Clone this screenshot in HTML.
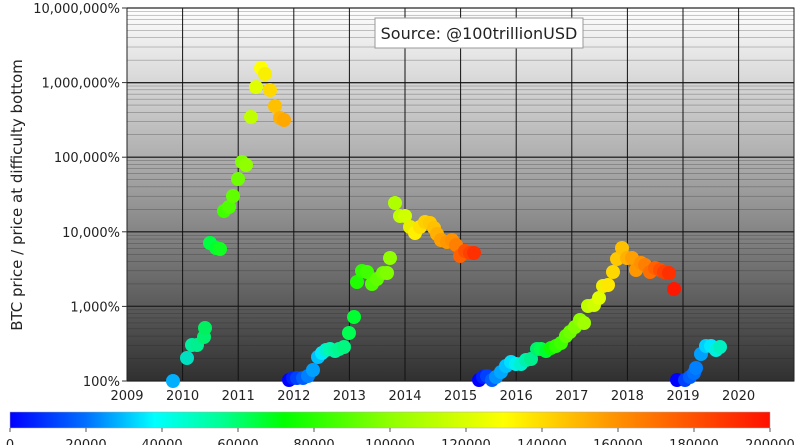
<!DOCTYPE html>
<html><head><meta charset="utf-8"><style>
html,body{margin:0;padding:0;background:#fff;width:800px;height:445px;overflow:hidden}
svg text{font-family:"DejaVu Sans","Liberation Sans",sans-serif;fill:#222}
</style></head><body>
<svg id="s" width="800" height="445" xmlns="http://www.w3.org/2000/svg">
<defs>
<linearGradient id="bg" x1="0" y1="0" x2="0" y2="1">
<stop offset="0" stop-color="#ffffff"/><stop offset="0.5" stop-color="#9a9a9a"/><stop offset="1" stop-color="#303030"/>
</linearGradient>
<linearGradient id="cb" x1="0" y1="0" x2="1" y2="0">
<stop offset="0" stop-color="#0000ff"/><stop offset="0.1" stop-color="#0070ff"/><stop offset="0.19" stop-color="#00ffff"/>
<stop offset="0.28" stop-color="#00ff90"/><stop offset="0.36" stop-color="#00ff00"/><stop offset="0.5" stop-color="#90ff00"/>
<stop offset="0.65" stop-color="#ffff00"/><stop offset="0.8" stop-color="#ff9000"/><stop offset="1" stop-color="#ff1000"/>
</linearGradient>
</defs>
<rect x="127" y="8" width="667" height="373" fill="url(#bg)"/>
<g id="grid"></g>
<rect x="127" y="8" width="667" height="373" fill="none" stroke="#222" stroke-width="1"/>
<g id="pts"></g>
<rect x="375" y="18" width="208" height="30" fill="#fff" stroke="#999"/>
<text x="479" y="39" font-size="16" text-anchor="middle">Source: @100trillionUSD</text>
<text transform="translate(22,195) rotate(-90)" font-size="15" text-anchor="middle">BTC price / price at difficulty bottom</text>
<g id="lab" font-size="13"></g>
<rect x="10" y="412" width="760" height="16" fill="url(#cb)" stroke="#aaa" stroke-width="0.5"/>
<g id="cbl" font-size="13"></g>
</svg>
<script>
(function(){
var NS="http://www.w3.org/2000/svg";
function el(p,t,a,txt){var e=document.createElementNS(NS,t);for(var k in a)e.setAttribute(k,a[k]);if(txt!==undefined)e.textContent=txt;document.getElementById(p).appendChild(e);}
var T=8,B=381,dec=(B-T)/5;
for(var d=0;d<5;d++){for(var k=1;k<=10;k++){var y=B-dec*(d+Math.log10(k));
el('grid','line',{x1:127,x2:794,y1:y,y2:y,stroke:'#222','stroke-width':(k==1||k==10)?1.2:0.5,'stroke-opacity':(k==1||k==10)?0.9:0.5});}}
var yl=['100%','1,000%','10,000%','100,000%','1,000,000%','10,000,000%'];
yl.forEach(function(t,i){var y=B-dec*i;el('lab','text',{x:120,y:y+5,'text-anchor':'end'},t);el('lab','line',{x1:122,x2:127,y1:y,y2:y,stroke:'#333'});});
for(var i=0;i<12;i++){var x=127+i*55.6;el('grid','line',{x1:x,x2:x,y1:8,y2:381,stroke:'#111','stroke-width':1});
el('lab','text',{x:x,y:400,'text-anchor':'middle'},String(2009+i));}
for(var i=0;i<=10;i++){var x=10+i*76;el('cbl','line',{x1:x,x2:x,y1:428,y2:432,stroke:'#555'});el('cbl','text',{x:x,y:449,'text-anchor':'middle'},String(i*20000));}
var P=[[173,381,'#00b0ff'],[187,358,'#00e0c0'],[192,345,'#00f0a0'],[197,345,'#00f090'],[204,337,'#00f070'],[205,328,'#00f060'],[210,243,'#00ff40'],[216,248,'#00ff30'],[220,249,'#10ff20'],[224,211,'#40ff00'],[229,207,'#50ff00'],[233,196,'#60ff00'],[238,179,'#70ff00'],[242,162,'#80ff00'],[246,165,'#90ff00'],[251,117,'#c0ff00'],[256,87,'#e0ff00'],[261,68,'#ffff00'],[265,74,'#f8f000'],[270,90,'#ffd800'],[275,106,'#ffc000'],[280,118,'#ffb000'],[284,120,'#ffa800'],
[289,380,'#0000ff'],[293,378,'#0020ff'],[297,378,'#0040ff'],[303,378,'#0060ff'],[308,376,'#0080ff'],[313,370,'#00a0ff'],[318,357,'#00c0ff'],[322,353,'#00e8ff'],[326,350,'#00f0d0'],[330,349,'#00f8b0'],[335,351,'#00f8a0'],[339,349,'#00f890'],[344,347,'#00f880'],[349,333,'#00ff50'],[354,317,'#00ff30'],[357,282,'#20ff00'],[362,271,'#30ff00'],[367,272,'#40ff00'],[372,284,'#50ff00'],[377,279,'#60ff00'],[383,273,'#70ff00'],[387,273,'#80ff00'],[390,258,'#90ff00'],[395,203,'#b0ff00'],[400,216,'#c0ff00'],[405,216,'#d0ff00'],[410,227,'#e8f000'],[415,233,'#fff000'],[420,227,'#ffe000'],[425,222,'#ffd000'],[430,223,'#ffc800'],[434,228,'#ffc000'],[437,234,'#ffb000'],[441,240,'#ffa000'],[447,242,'#ff9800'],[452,240,'#ff9000'],[456,245,'#ff8000'],[460,256,'#ff6000'],[465,251,'#ff5000'],[470,253,'#ff4000'],[474,253,'#ff3000'],
[479,380,'#0000ff'],[483,377,'#0020ff'],[487,376,'#0040ff'],[492,380,'#0060ff'],[496,377,'#0090ff'],[501,372,'#00a8ff'],[506,366,'#00c0ff'],[511,362,'#00e0ff'],[516,364,'#00f0f0'],[521,364,'#00f0d0'],[526,360,'#00f0b0'],[531,359,'#00f090'],[537,349,'#00f070'],[541,349,'#00ff50'],[546,351,'#00ff30'],[551,348,'#10ff00'],[556,346,'#30ff00'],[561,343,'#40ff00'],[566,336,'#60ff00'],[570,332,'#70ff00'],[575,327,'#80ff00'],[580,320,'#90ff00'],[584,323,'#a0ff00'],[588,306,'#c0ff00'],[594,305,'#d0ff00'],[599,298,'#e0ff00'],[603,286,'#f0f000'],[608,285,'#ffe800'],[613,272,'#ffd800'],[617,259,'#ffc800'],[622,248,'#ffc000'],[627,258,'#ffb000'],[632,258,'#ffa000'],[636,270,'#ff9800'],[641,263,'#ff9000'],[645,265,'#ff8000'],[650,272,'#ff7000'],[655,268,'#ff6000'],[660,270,'#ff5000'],[664,272,'#ff4000'],[669,273,'#ff3000'],[674,289,'#ff1800'],
[677,380,'#0000ff'],[685,380,'#0040ff'],[690,377,'#0060ff'],[694,373,'#0070ff'],[696,368,'#0080ff'],[701,354,'#00a0ff'],[706,346,'#00d0ff'],[711,346,'#00e8ff'],[716,350,'#00f0e0'],[720,347,'#00f0c0']];
P.forEach(function(p){el('pts','circle',{cx:p[0],cy:p[1],r:7,fill:p[2]});});
})();
</script>
</body></html>
